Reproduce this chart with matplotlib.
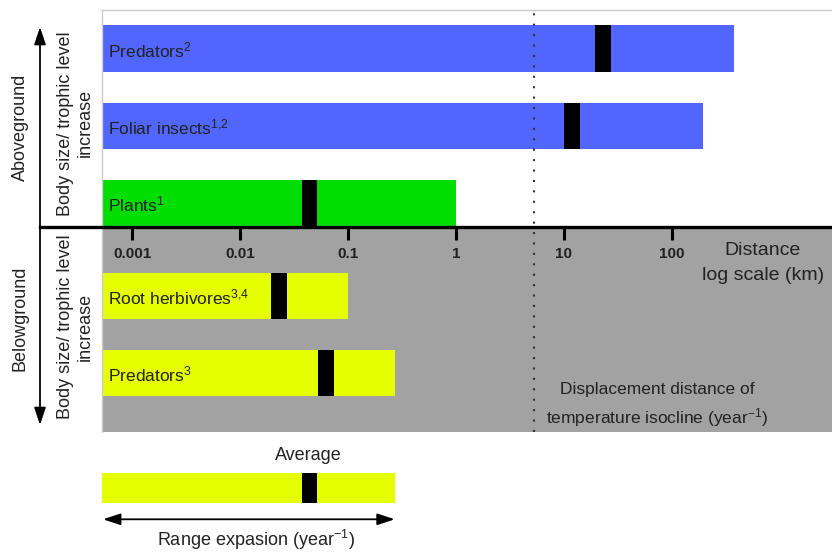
import numpy as np
import matplotlib
matplotlib.use('Agg')
import matplotlib.pyplot as plt
from matplotlib import transforms
from matplotlib.lines import Line2D
from matplotlib.ticker import NullLocator

plt.rcParams['font.family'] = ['Liberation Sans', 'DejaVu Sans']
plt.rcParams['mathtext.default'] = 'regular'

# ---------------- data ----------------
above_labels = ['Predators$^{2}$', 'Foliar insects$^{1{,}2}$', 'Plants$^{1}$']
above_max = [377, 196, 1.0]
above_mean = [23, 11.9, 0.044]
above_colors = ['#5066ff', '#5066ff', '#00dd00']

below_labels = ['Root herbivores$^{3{,}4}$', 'Predators$^{3}$']
below_max = [0.1, 0.27]
below_mean = [0.023, 0.062]
below_colors = ['#e5ff00', '#e5ff00']

avg_max = 0.27
avg_mean = 0.044
avg_color = '#e5ff00'

isocline = 5.3

tick_values = [0.001, 0.01, 0.1, 1, 10, 100]
tick_labels = ['0.001', '0.01', '0.1', '1', '10', '100']

# ---------------- layout ----------------
W, H, DPI = 832, 552, 100
fig = plt.figure(figsize=(W / DPI, H / DPI), dpi=DPI)
fig.patch.set_facecolor('white')
TXT = '#222222'


def fx(px):
    return px / W


def fy(py):
    return 1 - py / H


XMIN, XMAX = 10 ** -3.284, 10 ** 3.485
AX_L, AX_T, AX_B = 101.7, 10, 431.7
ax = fig.add_axes([fx(AX_L), fy(AX_B), 1 - fx(AX_L), (AX_B - AX_T) / H])
YB, YT = -2.66, 2.81
GRAY = '#a2a2a2'
BAR_H = 0.6
MARK_HALF = 0.0725  # half-width of the mean marker in decades

above_pos = np.arange(len(above_labels))[::-1] + 0.31
below_pos = -np.arange(len(below_labels)) - 0.895

ax.set_xscale('log')
ax.spines['bottom'].set_position(('data', 0))
ax.spines['bottom'].set_visible(False)
ax.spines['right'].set_visible(False)
for s in ('top', 'left'):
    ax.spines[s].set_color('#cccccc')
    ax.spines[s].set_linewidth(1)

ax.axhspan(YB, 0, color=GRAY, zorder=0, lw=0)

lab_tr = transforms.blended_transform_factory(ax.transAxes, ax.transData)


def draw_rows(pos, maxs, means, colors, labels):
    for y, m, mu, c, lab in zip(pos, maxs, means, colors, labels):
        ax.barh(y, m - XMIN, left=XMIN, height=BAR_H, color=c, zorder=2, lw=0)
        lo, hi = mu * 10 ** -MARK_HALF, mu * 10 ** MARK_HALF
        ax.barh(y, hi - lo, left=lo, height=BAR_H, color='black', zorder=3, lw=0)
        ax.text(0.009, y - 0.117, lab, transform=lab_tr, ha='left', va='baseline',
                fontsize=12.5, color=TXT, zorder=5)


draw_rows(above_pos, above_max, above_mean, above_colors, above_labels)
draw_rows(below_pos, below_max, below_mean, below_colors, below_labels)

ax.axvline(isocline, color='#333333', lw=1.5, ls=(0, (1, 4)), zorder=4)

ax.set_xlim(XMIN, XMAX)
ax.set_ylim(YB, YT)
ax.set_yticks([])
ax.xaxis.set_minor_locator(NullLocator())
ax.set_xticks(tick_values)
ax.set_xticklabels(tick_labels, fontweight='bold', fontsize=11, color=TXT)
ax.tick_params(axis='x', which='major', direction='out', length=9.5, width=2.2,
               color='black', pad=5)

# main horizontal axis line extended to the left arrows
line_tr = transforms.blended_transform_factory(fig.transFigure, ax.transData)
fig.add_artist(Line2D([fx(40), 1.0], [0, 0], transform=line_tr, color='black',
                      lw=2.4, zorder=6))

arrow_kw = dict(arrowstyle='-|>,head_length=0.75,head_width=0.25', color='black',
                lw=1.3, mutation_scale=14, shrinkA=0, shrinkB=0)
ax.annotate('', xy=(40, H - 27), xytext=(40, H - 226.7), xycoords='figure pixels',
            textcoords='figure pixels', arrowprops=arrow_kw)
ax.annotate('', xy=(40, H - 425), xytext=(40, H - 226.7), xycoords='figure pixels',
            textcoords='figure pixels', arrowprops=arrow_kw)

# side labels
fig.text(fx(20), fy(127), 'Aboveground', rotation=90, ha='center', va='center',
         fontsize=13, color=TXT)
fig.text(fx(75), fy(123.3), 'Body size/ trophic level\nincrease', rotation=90,
         ha='center', va='center', multialignment='center', fontsize=13,
         color=TXT, linespacing=1.2)
fig.text(fx(20), fy(318), 'Belowground', rotation=90, ha='center', va='center',
         fontsize=13, color=TXT)
fig.text(fx(75), fy(327), 'Body size/ trophic level\nincrease', rotation=90,
         ha='center', va='center', multialignment='center', fontsize=13,
         color=TXT, linespacing=1.2)

fig.text(fx(763), fy(263), 'Distance\nlog scale (km)', ha='center', va='center',
         multialignment='center', fontsize=14, color=TXT, linespacing=1.55)
fig.text(fx(657), fy(405.5), 'Displacement distance of\ntemperature isocline (year$^{-1}$)',
         ha='center', va='center', multialignment='center', fontsize=12.5,
         color=TXT, linespacing=1.5)

# ---------------- average bar ----------------
ax2 = fig.add_axes([fx(AX_L), fy(503.3), 1 - fx(AX_L), 30.6 / H])
ax2.set_xscale('log')
ax2.barh(0.5, avg_max - XMIN, left=XMIN, height=1, color=avg_color, lw=0, zorder=2)
lo, hi = avg_mean * 10 ** -MARK_HALF, avg_mean * 10 ** MARK_HALF
ax2.barh(0.5, hi - lo, left=lo, height=1, color='black', lw=0, zorder=3)
ax2.set_xlim(XMIN, XMAX)
ax2.set_ylim(0, 1)
ax2.axis('off')

arr_tr = transforms.blended_transform_factory(ax2.transData, fig.transFigure)
ax2.annotate('', xy=(avg_max, fy(519.3)), xytext=(XMIN * 1.03, fy(519.3)),
             xycoords=arr_tr, textcoords=arr_tr,
             arrowprops=dict(arrowstyle='<|-|>,head_length=0.75,head_width=0.25',
                             color='black', lw=1.3, mutation_scale=14,
                             shrinkA=0, shrinkB=0), annotation_clip=False)

fig.text(fx(308), fy(455), 'Average', ha='center', va='center', fontsize=13,
         color=TXT)
fig.text(fx(255.8), fy(540), 'Range expasion (year$^{-1}$)', ha='center',
         va='center', fontsize=13, color=TXT)

fig.savefig('out.png', dpi=DPI)
